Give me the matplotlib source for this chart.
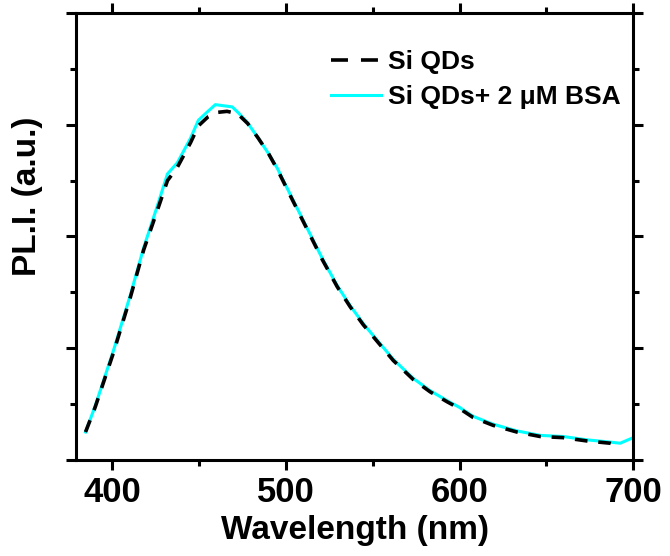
import numpy as np
import matplotlib
matplotlib.use('Agg')
import matplotlib.pyplot as plt
from matplotlib.lines import Line2D
from matplotlib.ticker import MultipleLocator, NullFormatter

plt.rcParams['font.family'] = ['Liberation Sans', 'DejaVu Sans']
plt.rcParams['font.weight'] = 'bold'

# Si QDs (black dashed)
wl_qd = [384.5, 390, 400.6, 410.4, 418, 426, 431.7, 437.4, 445, 449.5, 455,
         460, 466, 472, 478, 484, 490, 495, 503.6, 512.3, 521, 529.5, 537,
         544.5, 552.6, 561.8, 573.3, 583, 592.9, 600, 607.8, 619.3, 633,
         646.4, 659.6, 673.5, 686.7, 692.5]
pl_qd = [0.25, 0.47, 0.96, 1.46, 1.88, 2.24, 2.50, 2.62, 2.84, 2.99, 3.07,
         3.11, 3.12, 3.10, 3.01, 2.88, 2.74, 2.60, 2.33, 2.06, 1.79, 1.55, 1.37,
         1.21, 1.06, 0.89, 0.72, 0.61, 0.52, 0.46, 0.38, 0.31, 0.25,
         0.21, 0.20, 0.17, 0.15, 0.12]

# Si QDs + 2 uM BSA (cyan)
wl_bsa = [384.5, 390, 400.6, 410.4, 418, 426, 431.7, 437.4, 445, 449.5, 455,
          459.3, 464, 469, 473, 477.7, 484, 490, 495, 503.6, 512.3, 521, 529.5,
          537, 544.5, 552.6, 561.8, 573.3, 583, 592.9, 600, 607.8, 619.3, 633,
          646.4, 659.6, 673.5, 686.7, 692.5, 700]
pl_bsa = [0.25, 0.48, 0.98, 1.48, 1.90, 2.28, 2.56, 2.66, 2.88, 3.04, 3.12,
          3.18, 3.17, 3.16, 3.10, 3.02, 2.88, 2.74, 2.61, 2.34, 2.07, 1.80, 1.56,
          1.38, 1.22, 1.07, 0.90, 0.73, 0.62, 0.53, 0.47, 0.39, 0.32, 0.26,
          0.22, 0.21, 0.18, 0.16, 0.15, 0.20]

labels = ['Si QDs', 'Si QDs+ 2 \u03bcM BSA']

fig = plt.figure(figsize=(6.7, 5.56), dpi=100)
ax = fig.add_axes([0.1134, 0.1727, 0.8317, 0.8039])

ax.plot(wl_bsa, pl_bsa, color='#00ffff', lw=2.2, zorder=2)
ax.plot(wl_qd, pl_qd, color='black', lw=2.6, ls=(0, (3.5, 3)), zorder=3)

ax.set_xlim(379, 700)
ax.set_ylim(0, 4)
ax.xaxis.set_major_locator(MultipleLocator(100))
ax.xaxis.set_minor_locator(MultipleLocator(50))
ax.yaxis.set_major_locator(MultipleLocator(1))
ax.yaxis.set_minor_locator(MultipleLocator(0.5))
ax.yaxis.set_major_formatter(NullFormatter())

for s in ax.spines.values():
    s.set_linewidth(2.2)
ax.tick_params(which='both', direction='out', width=2.2, top=True, right=True,
               labelsize=25, pad=4)
ax.tick_params(which='major', length=7.5)
ax.tick_params(which='minor', length=4.5)

ax.set_xlabel('Wavelength (nm)', fontsize=24, fontweight='bold', labelpad=4)
ax.set_ylabel('PL.I. (a.u.)', fontsize=24, fontweight='bold')
ax.yaxis.set_label_coords(-0.06, 0.59)

handles = [Line2D([], [], color='black', lw=2.6, ls=(0, (4.7, 3.6))),
           Line2D([], [], color='#00ffff', lw=2.2)]
ax.legend(handles, labels, loc='upper right', bbox_to_anchor=(0.977, 0.917),
          frameon=False, handlelength=1.9, handletextpad=0.25,
          labelspacing=0.41, borderpad=0, borderaxespad=0,
          prop={'weight': 'bold', 'size': 19})

fig.savefig('out.png', dpi=100)
